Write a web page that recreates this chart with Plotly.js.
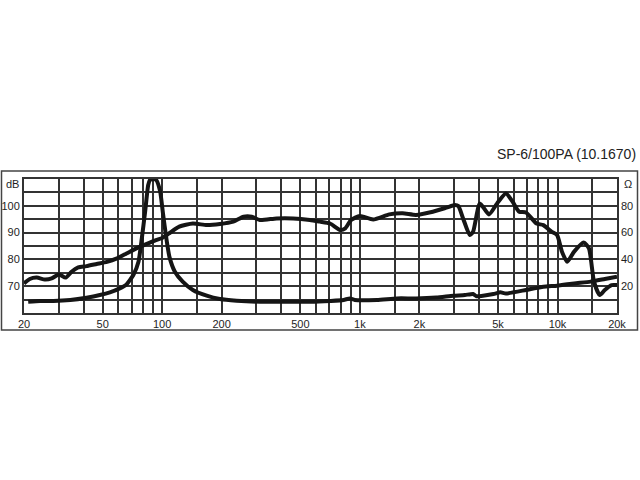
<!DOCTYPE html>
<html>
<head>
<meta charset="utf-8">
<script src="https://cdn.plot.ly/plotly-3.0.1.min.js"></script>
<style>html,body{margin:0;padding:0;background:#fff;}#chart{width:640px;height:480px;}</style>
</head>
<body>
<div id="chart"></div>
<script>
// Frequency response (SPL, dB, left axis)
const splFreq = [20,21.4,23.2,25.5,27.6,30,32.5,34.8,37.6,41.4,46.6,52.6,59.1,66,74,83,93,100,108,122,143,168,196,229,258,284,312,379,460,559,627,707,795,844,903,1000,1168,1410,1647,1925,2340,2740,3030,3150,3330,3600,3740,4050,4500,4950,5480,5930,6400,6930,7830,8480,9360,9950,10530,11200,12140,13570,14420,15300,16360,17350,18800,20000];
const splDb = [71.0,72.7,73.2,72.5,72.9,74.4,73.2,75.4,77.0,77.5,78.3,79.1,80.4,82.2,84.1,85.7,87.2,88.0,89.6,92.2,93.4,92.8,93.2,94.1,95.9,95.9,94.7,95.3,95.3,94.7,94.1,93.4,91.0,91.6,94.7,96.2,94.9,96.8,97.2,96.6,97.8,99.3,100.3,99.9,95.3,89.1,90.3,100.9,96.8,100.9,104.6,101.5,97.8,97.5,93.4,92.8,90.3,89.1,82.9,79.1,82.9,86.3,84.1,71.7,66.7,68.6,70.4,70.4];

// Impedance (ohm, right axis)
const impFreq = [21,24.1,28.2,34.3,41.4,48.4,54.4,61,66,71.5,75.9,78.9,82,85,87,93,97.6,101,105,109,116,127,143,168,196,238,312,425,559,707,828,889,943,1220,1540,1925,2440,2970,3400,3740,3890,4740,5140,5480,6930,8480,9950,12140,14700,17350,20000];
const impOhm = [8.4,9.0,9.0,9.7,11.4,13.4,15.4,18.4,21.3,28.4,38.3,55.7,75.6,95.5,99.5,99.5,91,74,55.7,41.5,30.8,23.4,17.2,12.9,10.4,9.2,8.4,8.4,8.4,9.0,9.7,10.9,9.7,9.7,10.9,10.9,11.6,12.9,13.4,14.2,12.5,14.2,15.4,14.6,17.2,19.6,20.4,22.1,23.4,25.4,27.1];

// Axis ticks / grid
const freqGrid = [20,30,40,50,60,70,80,90,100,150,200,300,400,500,600,700,800,900,1000,1500,2000,3000,4000,5000,6000,7000,8000,9000,10000,15000,20000];
const freqLabels = {20:"20",50:"50",100:"100",200:"200",500:"500",1000:"1k",2000:"2k",5000:"5k",10000:"10k",20000:"20k"};
const dbGrid = [60,65,70,75,80,85,90,95,100,105,110];
const dbLabels = {70:"70",80:"80",90:"90",100:"100"};
const ohmTicks = [20,40,60,80];
const ohmLabels = ["20","40","60","80"];
const chartTitle = "SP-6/100PA (10.1670)";

const ink = "#151515";
const gridInk = "#333";
const tickFont = {family: "Liberation Sans, Arial, sans-serif", size: 11, color: "#1e1e1e"};

const traces = [
  {x: splFreq, y: splDb, type: "scatter", mode: "lines", yaxis: "y",
   line: {color: ink, width: 4, shape: "spline", smoothing: 0.6}, hoverinfo: "skip"},
  {x: impFreq, y: impOhm, type: "scatter", mode: "lines", yaxis: "y2",
   line: {color: ink, width: 4, shape: "spline", smoothing: 0.5}, hoverinfo: "skip"}
];

const W = 593, H = 134, L = 24, B = 313;
const px = v => (v - L) / W;
const py = v => (B - v) / H;

const layout = {
  width: 640, height: 480,
  margin: {l: 24, r: 23, t: 179, b: 167, pad: 0},
  paper_bgcolor: "#fff", plot_bgcolor: "#fff",
  showlegend: false,
  xaxis: {
    type: "log", range: [Math.log10(20), Math.log10(20000)],
    tickmode: "array", tickvals: freqGrid,
    ticktext: freqGrid.map(v => freqLabels[v] || ""),
    showgrid: true, gridcolor: gridInk, gridwidth: 2,
    showline: true, mirror: true, linecolor: gridInk, linewidth: 2,
    ticks: "", tickfont: tickFont, zeroline: false, fixedrange: true
  },
  yaxis: {
    range: [60, 110], tickmode: "array", tickvals: dbGrid,
    ticktext: dbGrid.map(v => dbLabels[v] || ""),
    showgrid: true, gridcolor: gridInk, gridwidth: 2,
    showline: true, mirror: true, linecolor: gridInk, linewidth: 2,
    ticks: "", tickfont: tickFont, zeroline: false, fixedrange: true
  },
  yaxis2: {
    overlaying: "y", side: "right", range: [0, 100],
    tickmode: "array", tickvals: ohmTicks, ticktext: ohmLabels,
    showgrid: false, showline: false, ticks: "", ticklabelstandoff: 3,
    tickfont: tickFont, zeroline: false, fixedrange: true
  },
  shapes: [
    {type: "rect", xref: "paper", yref: "paper",
     x0: px(1.5), x1: px(637.5), y0: py(330), y1: py(171),
     line: {color: "#444", width: 1.5}, fillcolor: "rgba(0,0,0,0)", layer: "below"}
  ],
  annotations: [
    {text: chartTitle, xref: "paper", yref: "paper", x: px(638), y: py(154),
     xanchor: "right", yanchor: "middle", showarrow: false,
     font: {family: "Liberation Sans, Arial, sans-serif", size: 14, color: "#222"}},
    {text: "dB", xref: "paper", yref: "paper", x: px(21), y: py(184),
     xanchor: "right", yanchor: "middle", showarrow: false, font: tickFont},
    {text: "Ω", xref: "paper", yref: "paper", x: px(622), y: py(184),
     xanchor: "left", yanchor: "middle", showarrow: false, font: tickFont}
  ]
};

Plotly.newPlot("chart", traces, layout, {staticPlot: true, displayModeBar: false});
</script>
</body>
</html>
